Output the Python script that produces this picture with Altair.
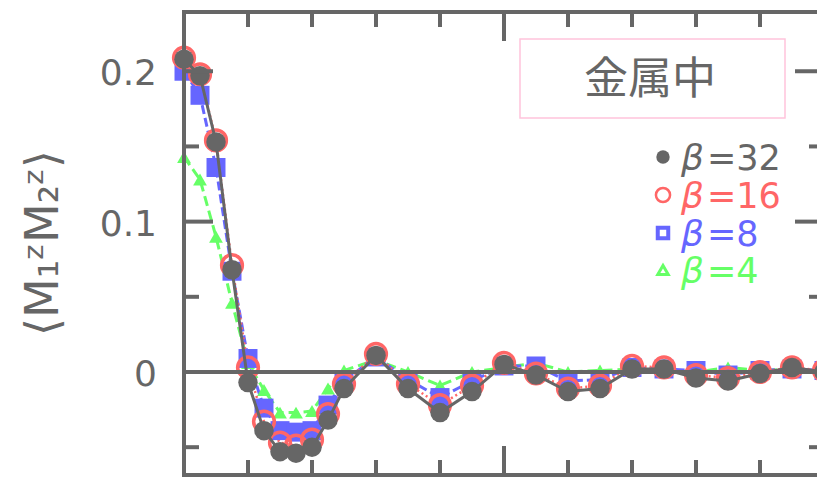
import altair as alt
import pandas as pd

# Separation r (lattice units) and spin correlation <M1z M2z> for four inverse temperatures
r = [0, 0.25, 0.5, 0.75, 1.0, 1.25, 1.5, 1.75, 2.0, 2.25, 2.5, 3.0, 3.5, 4.0,
     4.5, 5.0, 5.5, 6.0, 6.5, 7.0, 7.5, 8.0, 8.5, 9.0, 9.5, 10.0]

corr_b32 = [0.208, 0.197, 0.153, 0.068, -0.007, -0.039, -0.053, -0.054, -0.050,
            -0.032, -0.011, 0.011, -0.011, -0.027, -0.013, 0.005, -0.002, -0.013,
            -0.011, 0.002, 0.002, -0.004, -0.006, -0.001, 0.003, 0.000]
corr_b16 = [0.209, 0.198, 0.154, 0.071, 0.003, -0.033, -0.047, -0.049, -0.045,
            -0.028, -0.008, 0.012, -0.008, -0.022, -0.009, 0.006, -0.001, -0.011,
            -0.009, 0.004, 0.003, -0.002, -0.004, 0.000, 0.003, 0.001]
corr_b8 = [0.200, 0.184, 0.136, 0.067, 0.009, -0.024, -0.039, -0.040, -0.039,
           -0.022, -0.006, 0.010, -0.005, -0.017, -0.006, 0.004, 0.004, -0.006,
           -0.005, 0.003, 0.002, 0.001, -0.002, 0.001, 0.002, 0.001]
corr_b4 = [0.143, 0.128, 0.090, 0.046, 0.006, -0.012, -0.027, -0.027, -0.026,
           -0.011, 0.001, 0.008, 0.000, -0.009, 0.000, 0.003, 0.006, 0.000,
           0.001, 0.002, 0.001, 0.000, 0.003, 0.001, 0.002, 0.001]

legend_labels = ["=32", "=16", "=8", "=4"]
series_colors = ["#666666", "#ff6666", "#6666ff", "#66ff66"]

y_ticks_major = [0, 0.1, 0.2]
y_ticks_minor = [-0.05, 0.05, 0.15]
x_ticks_major = [5]
x_ticks_minor = [1, 2, 3, 4, 6, 7, 8, 9]
y_tick_labels = ["0", "0.1", "0.2"]

panel_title = "金属中"
y_title = "⟨M₁ᶻM₂ᶻ⟩"

# layout
W, H = 633, 463
PX_PER_R = 64
R_RIGHT = 10          # right frame edge (lies just past the visible page)
RIGHT_PX = R_RIGHT * PX_PER_R
Y_DOMAIN = [-0.0685, 0.2394]
AXIS = "#666666"
FONT = "DejaVu Sans"
MAJ, MIN = 29, 15

xs = alt.Scale(domain=[0, W / PX_PER_R])
ys = alt.Scale(domain=Y_DOMAIN)


def X(f):
    return alt.X(f, type="quantitative", scale=xs, axis=None)


def Y(f):
    return alt.Y(f, type="quantitative", scale=ys, axis=None)


def series(vals, color, shape, size, filled, sw, dash, lw):
    df = pd.DataFrame({"r": r, "c": vals})
    base = alt.Chart(df)
    line_kw = dict(color=color, strokeWidth=lw)
    if dash:
        line_kw["strokeDash"] = dash
    line = base.mark_line(**line_kw).encode(x=X("r"), y=Y("c"))
    pts = base.mark_point(shape=shape, size=size, filled=filled, color=color,
                          strokeWidth=sw, opacity=1).encode(x=X("r"), y=Y("c"))
    return line, pts


g_line, g_pts = series(corr_b4, series_colors[3], "triangle-up", 190, True, 0, [10, 5], 3)
b_line, b_pts = series(corr_b8, series_colors[2], "square", 360, True, 0, [9, 4], 3)
r_line, r_pts = series(corr_b16, series_colors[1], "circle", 430, False, 3.5, [2, 3], 2.5)
k_line, k_pts = series(corr_b32, series_colors[0], "circle", 380, True, 0, None, 3)

rule_kw = dict(color=AXIS, strokeWidth=4, strokeCap="square")
one_row = pd.DataFrame({"c": [0]})

# frame: left, top, bottom spines and the zero line
left_spine = alt.Chart(one_row).mark_rule(**rule_kw).encode(
    x=alt.value(0), y=alt.value(0), y2=alt.value(H))
top_spine = alt.Chart(one_row).mark_rule(**rule_kw).encode(
    x=alt.value(0), x2=alt.value(RIGHT_PX), y=alt.value(0))
bottom_spine = alt.Chart(one_row).mark_rule(**rule_kw).encode(
    x=alt.value(0), x2=alt.value(RIGHT_PX), y=alt.value(H))
zero_line = alt.Chart(one_row).mark_rule(color=AXIS, strokeWidth=4).encode(
    x=alt.value(0), x2=alt.value(RIGHT_PX), y=Y("c"))


# inward ticks on all four sides
def yticks(vals, length):
    df = pd.DataFrame({"v": vals})
    left = alt.Chart(df).mark_rule(color=AXIS, strokeWidth=4).encode(
        y=Y("v"), x=alt.value(0), x2=alt.value(length))
    right = alt.Chart(df).mark_rule(color=AXIS, strokeWidth=4).encode(
        y=Y("v"), x=alt.value(RIGHT_PX - length), x2=alt.value(RIGHT_PX))
    return [left, right]


def xticks(vals, length):
    df = pd.DataFrame({"v": vals})
    top = alt.Chart(df).mark_rule(color=AXIS, strokeWidth=4).encode(
        x=X("v"), y=alt.value(0), y2=alt.value(length))
    bottom = alt.Chart(df).mark_rule(color=AXIS, strokeWidth=4).encode(
        x=X("v"), y=alt.value(H - length), y2=alt.value(H))
    return [top, bottom]


tick_layers = (yticks(y_ticks_major, MAJ) + yticks(y_ticks_minor, MIN)
               + xticks(x_ticks_major, MAJ) + xticks(x_ticks_minor, MIN))

# y tick labels and axis title
ylab_df = pd.DataFrame({"v": y_ticks_major, "t": y_tick_labels})
y_labels = alt.Chart(ylab_df).mark_text(
    font=FONT, fontSize=36, color=AXIS, align="right", baseline="middle", dy=3
).encode(y=Y("v"), x=alt.value(-27), text="t:N")

title_df = pd.DataFrame({"t": [y_title]})
y_title_mark = alt.Chart(title_df).mark_text(
    font=FONT, fontSize=46, color=AXIS, align="center", baseline="middle", angle=270
).encode(x=alt.value(-140), y=alt.value(231), text="t:N")

# boxed panel title
box = alt.Chart(one_row).mark_rect(fill="white", stroke="#ffc4dc", strokeWidth=1.5).encode(
    x=alt.value(336), x2=alt.value(601), y=alt.value(27), y2=alt.value(106))
box_text = alt.Chart(pd.DataFrame({"t": [panel_title]})).mark_text(
    font="Noto Sans CJK JP", fontSize=44, color=AXIS, align="center", baseline="middle"
).encode(x=alt.value(466), y=alt.value(69), text="t:N")

# legend rows: symbol, italic beta, value
row_y = [145, 183, 221, 258]
sym_style = [
    dict(shape="circle", size=180, filled=True, strokeWidth=0),
    dict(shape="circle", size=200, filled=False, strokeWidth=2.5),
    dict(shape="square", size=110, filled=False, strokeWidth=4),
    dict(shape="triangle-up", size=110, filled=False, strokeWidth=3),
]
leg_layers = []
for i in range(4):
    one = pd.DataFrame({"t": [legend_labels[i]], "b": ["β"]})
    c = series_colors[i]
    leg_layers.append(alt.Chart(one).mark_point(color=c, opacity=1, **sym_style[i]).encode(
        x=alt.value(479), y=alt.value(row_y[i])))
    leg_layers.append(alt.Chart(one).mark_text(
        font=FONT, fontSize=36, fontStyle="italic", color=c,
        align="left", baseline="middle").encode(
        x=alt.value(497), y=alt.value(row_y[i] + 2), text="b:N"))
    leg_layers.append(alt.Chart(one).mark_text(
        font=FONT, fontSize=35, color=c, align="left", baseline="middle").encode(
        x=alt.value(523), y=alt.value(row_y[i] + 2), text="t:N"))

chart = alt.layer(
    box, box_text,
    g_line, b_line, r_line, g_pts, b_pts, r_pts,
    zero_line, k_line, k_pts,
    left_spine, top_spine, bottom_spine,
    *tick_layers,
    y_labels, y_title_mark,
    *leg_layers,
).properties(
    width=W, height=H,
    autosize=alt.AutoSizeParams(type="none"),
    padding={"left": 184, "top": 12, "right": 0, "bottom": 3},
    background="white",
).configure_view(stroke=None)

chart.save("out.html", embed_options={"renderer": "svg", "actions": False})
